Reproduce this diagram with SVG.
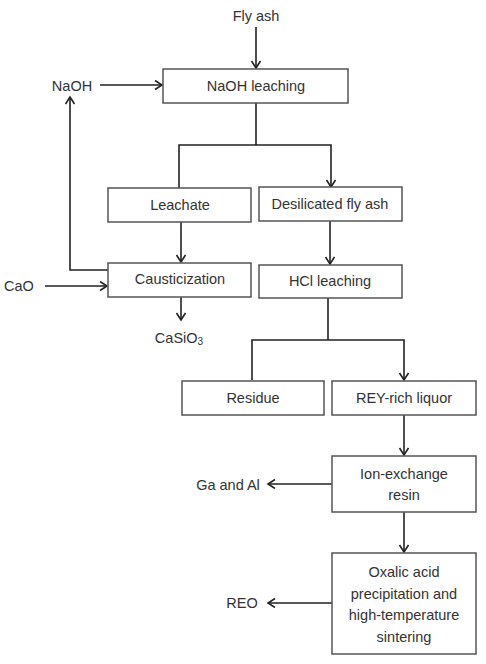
<svg xmlns="http://www.w3.org/2000/svg" width="486" height="664" viewBox="0 0 486 664">
<style>
.box{fill:#fff;stroke:#555;stroke-width:1.5}
.t{font-family:"Liberation Sans",Arial,sans-serif;font-size:14.5px;fill:#333;text-anchor:middle;dominant-baseline:central}
.c{fill:none;stroke:#222;stroke-width:1.6}
.a{marker-end:url(#ah)}
</style>
<defs>
<marker id="ah" markerUnits="userSpaceOnUse" markerWidth="12" markerHeight="12" refX="8" refY="5" orient="auto">
<path d="M1,0.5 L8,5 L1,9.5" fill="none" stroke="#222" stroke-width="1.6"/>
</marker>
</defs>
<rect width="486" height="664" fill="#fff"/>
<g id="connectors">
<line class="c a" x1="256" y1="27" x2="256" y2="68"/>
<line class="c a" x1="100" y1="85" x2="162" y2="85"/>
<polyline class="c" points="256,103 256,145"/>
<polyline class="c a" points="179,188 179,145 331,145 331,187"/>
<line class="c a" x1="181" y1="222" x2="181" y2="262"/>
<line class="c a" x1="330" y1="221" x2="330" y2="264"/>
<polyline class="c a" points="108,270 70,270 70,97"/>
<line class="c a" x1="45" y1="286" x2="107" y2="286"/>
<line class="c a" x1="181" y1="297" x2="181" y2="320"/>
<polyline class="c" points="328,298 328,340"/>
<polyline class="c a" points="252,380 252,340 404,340 404,380"/>
<line class="c a" x1="404" y1="415" x2="404" y2="455"/>
<line class="c a" x1="332" y1="484" x2="268" y2="484"/>
<line class="c a" x1="404" y1="512" x2="404" y2="552"/>
<line class="c a" x1="332" y1="603" x2="268" y2="603"/>
</g>
<g id="flyash"><text class="t" x="256" y="16">Fly ash</text></g>
<g id="naoh"><text class="t" x="72" y="86">NaOH</text></g>
<g id="naoh-leaching"><rect class="box" x="163" y="69" width="185" height="34"/><text class="t" x="256" y="86">NaOH leaching</text></g>
<g id="leachate"><rect class="box" x="108" y="188" width="143" height="34"/><text class="t" x="180" y="205">Leachate</text></g>
<g id="desilicated"><rect class="box" x="259" y="187" width="143" height="34"/><text class="t" x="330" y="204">Desilicated fly ash</text></g>
<g id="causticization"><rect class="box" x="108" y="263" width="143" height="34"/><text class="t" x="180" y="279">Causticization</text></g>
<g id="hcl"><rect class="box" x="259" y="265" width="143" height="33"/><text class="t" x="330" y="281">HCl leaching</text></g>
<g id="cao"><text class="t" x="19" y="286">CaO</text></g>
<g id="casio3"><text class="t" x="179" y="338">CaSiO<tspan font-size="10" dy="3">3</tspan></text></g>
<g id="residue"><rect class="box" x="182" y="381" width="142" height="34"/><text class="t" x="253" y="398">Residue</text></g>
<g id="rey"><rect class="box" x="332" y="381" width="144" height="34"/><text class="t" x="404" y="398">REY-rich liquor</text></g>
<g id="ion"><rect class="box" x="332" y="456" width="144" height="56"/><text class="t" x="404" y="474">Ion-exchange</text><text class="t" x="404" y="495">resin</text></g>
<g id="gaal"><text class="t" x="228" y="485">Ga and Al</text></g>
<g id="oxalic"><rect class="box" x="332" y="553" width="144" height="101"/><text class="t" x="404" y="572">Oxalic acid</text><text class="t" x="404" y="593.5">precipitation and</text><text class="t" x="404" y="615">high-temperature</text><text class="t" x="404" y="636.5">sintering</text></g>
<g id="reo"><text class="t" x="242" y="603">REO</text></g>
</svg>
